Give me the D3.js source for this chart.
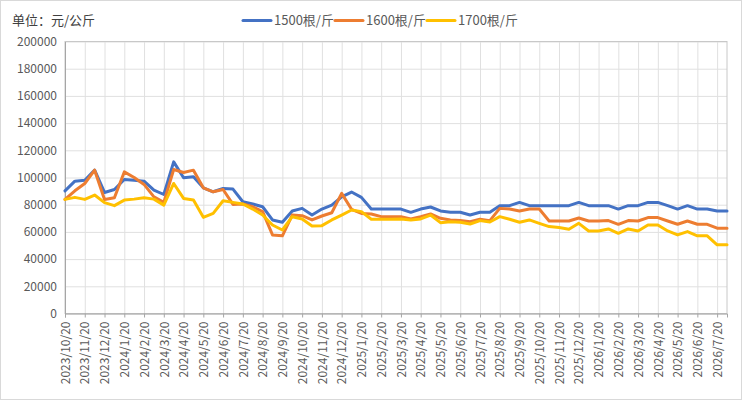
<!DOCTYPE html>
<html>
<head>
<meta charset="utf-8">
<script src="https://cdn.jsdelivr.net/npm/d3@7"></script>
<style>
  html, body { margin: 0; padding: 0; background: #fff; }
  svg { display: block; font-family: "Noto Sans CJK SC", "Noto Sans", sans-serif; }
</style>
</head>
<body>
<div id="chart"></div>
<script>
// tick labels, one per month (every second data point)
const tickLabels = [
  "2023/10/20","2023/11/20","2023/12/20","2024/1/20","2024/2/20","2024/3/20",
  "2024/4/20","2024/5/20","2024/6/20","2024/7/20","2024/8/20","2024/9/20",
  "2024/10/20","2024/11/20","2024/12/20","2025/1/20","2025/2/20","2025/3/20",
  "2025/4/20","2025/5/20","2025/6/20","2025/7/20","2025/8/20","2025/9/20",
  "2025/10/20","2025/11/20","2025/12/20","2026/1/20","2026/2/20","2026/3/20",
  "2026/4/20","2026/5/20","2026/6/20","2026/7/20"
];

const seriesNames = ["1500根/斤", "1600根/斤", "1700根/斤"];

// values, two points per month
const s1500 = [
  90200, 97300, 98000, 105400, 89000, 91200, 98500, 98000, 97300, 90700,
  87500, 111500, 99800, 100500, 92400, 89500, 92000, 91500, 82200, 80500,
  78500, 68800, 67100, 75400, 77300, 72400, 76800, 79700, 85800, 89300,
  85400, 76800, 76800, 76800, 76800, 74400, 76800, 78300, 75400, 74400,
  74400, 72400, 74400, 74400, 79300, 79300, 81700, 79300, 79300, 79300,
  79300, 79300, 81700, 79300, 79300, 79300, 76800, 79300, 79300, 81700,
  81700, 79300, 76800, 79300, 76800, 76800, 75400, 75400
];
const s1600 = [
  83900, 90200, 95600, 105400, 83900, 85100, 104100, 100000, 94900, 85800,
  81700, 105900, 103700, 105400, 92400, 89500, 91200, 80200, 80500, 78500,
  74900, 57800, 57100, 72400, 71900, 68800, 71700, 74100, 88300, 76600,
  73600, 73200, 71200, 71200, 71200, 69500, 71200, 73200, 70000, 68800,
  68300, 67500, 69300, 68300, 77300, 76800, 75400, 76800, 76800, 68000,
  68000, 68000, 70200, 68000, 68000, 68300, 65600, 68300, 68000, 70500,
  70500, 68000, 65600, 68000, 65600, 65600, 62700, 62700
];
const s1700 = [
  83900, 85400, 83900, 87100, 81500, 79300, 83400, 84100, 85100, 84100,
  79700, 95600, 84600, 83400, 70700, 73600, 82900, 81700, 80500, 76800,
  72400, 65100, 61400, 71200, 69500, 64400, 64600, 68800, 72400, 76100,
  74900, 69300, 69300, 69300, 69500, 68800, 69500, 72400, 66800, 67500,
  67100, 65800, 68300, 67300, 71200, 69300, 67100, 68800, 66300, 63900,
  63200, 62000, 66300, 60700, 60700, 62200, 59000, 62200, 60700, 65100,
  65100, 60700, 57800, 60200, 57100, 57100, 50500, 50500
];

const yTicks = [0, 20000, 40000, 60000, 80000, 100000, 120000, 140000, 160000, 180000, 200000];
const colors = ["#4472C4", "#ED7D31", "#FFC000"];

const wid = 742, hei = 400;
const plot = { left: 65, right: 727, top: 41.5, bottom: 313.5 };

const svg = d3.select("#chart").append("svg")
  .attr("width", wid)
  .attr("height", hei);

// outer frame
svg.append("rect")
  .attr("x", 0.5).attr("y", 0.5)
  .attr("width", wid - 1).attr("height", hei - 1)
  .attr("fill", "#fff")
  .attr("stroke", "#d9d9d9");

const allSeries = [s1500, s1600, s1700];
const nPts = s1500.length;

const xScale = d3.scaleLinear()
  .domain([0, nPts - 1])
  .range([plot.left, plot.right]);

const yScale = d3.scaleLinear()
  .domain([0, 200000])
  .range([plot.bottom, plot.top]);

const tickIdx = tickLabels.map((d, i) => i * 2);

// horizontal grid
svg.append("g")
  .attr("transform", `translate(${plot.left},0)`)
  .call(d3.axisLeft(yScale).tickValues(yTicks).tickSize(-(plot.right - plot.left)).tickFormat(""))
  .call(g => g.select(".domain").remove())
  .call(g => g.selectAll("line").attr("stroke", "#e0e0e0"));

// vertical grid
svg.append("g")
  .attr("transform", `translate(0,${plot.bottom})`)
  .call(d3.axisBottom(xScale).tickValues(tickIdx).tickSize(-(plot.bottom - plot.top)).tickFormat(""))
  .call(g => g.select(".domain").remove())
  .call(g => g.selectAll("line").attr("stroke", "#e0e0e0"));

// plot frame
svg.append("rect")
  .attr("x", plot.left).attr("y", plot.top)
  .attr("width", plot.right - plot.left).attr("height", plot.bottom - plot.top)
  .attr("fill", "none")
  .attr("stroke", "#c8c8c8");

// y axis labels
const yAxis = svg.append("g")
  .attr("transform", `translate(${plot.left},0)`)
  .call(d3.axisLeft(yScale).tickValues(yTicks).tickSize(0).tickPadding(8).tickFormat(d3.format("d")));
yAxis.select(".domain").attr("stroke", "#a6a6a6");
yAxis.selectAll("text")
  .attr("fill", "#595959")
  .style("font-size", "12px")
  .style("font-family", "'Noto Sans CJK SC', sans-serif");

// x axis with rotated labels
const xAxis = svg.append("g")
  .attr("transform", `translate(0,${plot.bottom})`)
  .call(d3.axisBottom(xScale).tickValues(tickIdx).tickSize(4).tickFormat((d, i) => tickLabels[i]));
xAxis.select(".domain").attr("stroke", "#a6a6a6");
xAxis.selectAll("line").attr("stroke", "#a6a6a6");
xAxis.selectAll("text")
  .attr("fill", "#595959")
  .style("font-size", "12px")
  .style("font-family", "'Noto Sans CJK SC', sans-serif")
  .attr("text-anchor", "end")
  .attr("transform", "rotate(-90)")
  .attr("x", -8)
  .attr("y", 0)
  .attr("dy", "0.35em");

// series lines
const line = d3.line()
  .x((d, i) => xScale(i))
  .y(d => yScale(d));

svg.append("g").selectAll("path")
  .data(allSeries)
  .enter()
  .append("path")
  .attr("d", line)
  .attr("fill", "none")
  .attr("stroke", (d, i) => colors[i])
  .attr("stroke-width", 3)
  .attr("stroke-linejoin", "round")
  .attr("stroke-linecap", "round");

// unit title
svg.append("text")
  .attr("x", 12)
  .attr("y", 25)
  .attr("fill", "#404040")
  .style("font-size", "13px")
  .text("单位：元/公斤");

// legend
const legendX = [243, 335, 427];
const legend = svg.append("g").selectAll("g")
  .data(seriesNames)
  .enter()
  .append("g")
  .attr("transform", (d, i) => `translate(${legendX[i]},20.5)`);
legend.append("line")
  .attr("x1", 0).attr("x2", 28)
  .attr("stroke", (d, i) => colors[i])
  .attr("stroke-width", 3)
  .attr("stroke-linecap", "round");
legend.append("text")
  .attr("x", 31)
  .attr("dy", "0.35em")
  .attr("fill", "#595959")
  .style("font-size", "13px")
  .text(d => d);
</script>
</body>
</html>
